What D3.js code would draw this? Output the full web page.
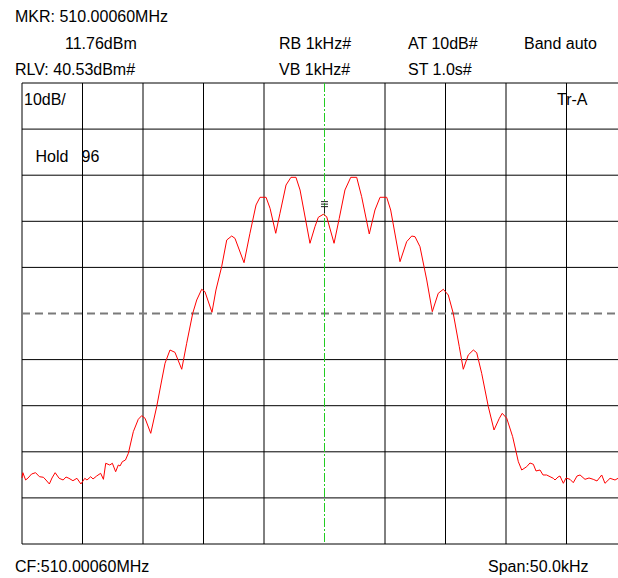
<!DOCTYPE html>
<html>
<head>
<meta charset="utf-8">
<script src="https://d3js.org/d3.v7.min.js"></script>
<style>
  body { margin: 0; background: #ffffff; }
  svg { display: block; font-family: "Liberation Sans", Arial, sans-serif; }
</style>
</head>
<body>
<svg></svg>
<script>
//constants
const W = 618, H = 578;
const plot = {left: 22, top: 83, width: 605, height: 461};

//data: trace (offset from CF in kHz, level in dBm)
const freqOffset = [
  -25.00, -24.93, -24.70, -24.50, -24.21, -23.88, -23.56, -23.23, -23.02, -22.74,
  -22.52, -22.26, -21.93, -21.60, -21.36, -21.12, -20.79, -20.46, -20.13, -19.81,
  -19.63, -19.32, -19.13, -18.83, -18.50, -18.27, -18.08, -17.75, -17.53, -17.26,
  -17.04, -16.90, -16.71, -16.45, -16.21, -15.80, -15.39, -15.11, -14.83, -14.36,
  -13.87, -13.45, -13.18, -12.77, -12.36, -11.80, -11.39, -10.89, -10.56, -10.15,
  -9.88, -9.30, -8.97, -8.50, -8.08, -7.67, -7.40, -6.65, -6.16, -5.66,
  -5.33, -4.83, -4.50, -4.03, -3.68, -3.18, -2.77, -2.36, -2.02, -1.20,
  -0.79, -0.51, -0.10, 0.18, 0.79, 1.22, 1.69, 2.17, 2.66, 3.07,
  3.70, 4.17, 4.59, 5.14, 5.47, 6.24, 6.79, 7.21, 7.48, 7.89,
  8.45, 8.91, 9.40, 9.82, 10.23, 10.64, 11.14, 11.47, 11.88, 12.30,
  12.58, 12.99, 13.54, 14.01, 14.45, 14.69, 15.06, 15.55, 16.02, 16.30,
  16.71, 16.98, 17.26, 17.48, 17.81, 18.06, 18.36, 18.64, 18.91, 19.05,
  19.30, 19.46, 19.74, 19.96, 20.29, 20.56, 20.87, 21.12, 21.53, 21.86,
  22.21, 22.52, 22.91, 23.18, 23.60, 24.01, 24.26, 24.83
];
const level = [
  -45.15, -44.00, -45.59, -45.15, -44.29, -44.00, -44.87, -45.00, -45.59, -46.45,
  -45.15, -44.00, -45.22, -45.59, -44.94, -45.22, -45.74, -45.22, -46.45, -45.22,
  -45.59, -44.87, -45.37, -44.72, -44.13, -45.44, -41.96, -42.33, -41.96, -43.79,
  -42.33, -42.55, -41.62, -41.25, -39.80, -35.11, -32.42, -31.64, -32.20, -35.46,
  -29.69, -23.90, -20.27, -17.39, -17.89, -21.57, -15.93, -9.43, -6.54, -4.22,
  -4.74, -9.21, -4.37, 0.68, 6.47, 7.34, 6.84, 1.55, 7.93, 14.07,
  15.74, 15.74, 13.35, 7.93, 12.27, 18.40, 20.07, 20.07, 17.32, 5.76,
  9.36, 11.40, 12.05, 11.53, 5.76, 11.18, 17.32, 20.07, 20.07, 15.87,
  7.78, 12.98, 15.74, 15.74, 12.98, 1.77, 6.11, 7.34, 7.19, 5.02,
  -2.20, -9.08, -5.09, -4.22, -5.46, -9.43, -16.67, -21.57, -18.47, -17.39,
  -17.97, -22.44, -29.69, -34.74, -32.20, -31.12, -32.20, -36.19, -41.62, -43.42,
  -42.70, -41.90, -42.18, -43.63, -43.42, -44.50, -44.50, -44.87, -45.22, -45.59,
  -44.94, -44.72, -46.30, -45.15, -45.44, -46.17, -44.72, -44.50, -45.44, -45.15,
  -45.44, -45.80, -44.50, -46.30, -45.22, -45.59, -45.22, -45.37
];

//settings
const refLevel = 40.53;       // dBm, top of screen
const dbPerDiv = 10;
const divisions = 10;
const span = 50;              // kHz
const displayLine = -9.47;    // dBm
const marker = {f: 0, level: 11.76};

const headerRows = [
  [{x: 15, t: "MKR: 510.00060MHz"}],
  [{x: 65, t: "11.76dBm"}, {x: 279, t: "RB 1kHz#"}, {x: 408, t: "AT 10dB#"}, {x: 524, t: "Band auto"}],
  [{x: 15, t: "RLV: 40.53dBm#"}, {x: 279, t: "VB 1kHz#"}, {x: 408, t: "ST 1.0s#"}]
];

//main
function main() {
  const svg = d3.select("svg")
    .attr("width", W)
    .attr("height", H);

  svg.append("rect")
    .attr("width", W)
    .attr("height", H)
    .attr("fill", "#ffffff");

  //scales
  const x = d3.scaleLinear()
    .domain([-span / 2, span / 2])
    .range([plot.left, plot.left + plot.width]);

  const y = d3.scaleLinear()
    .domain([refLevel, refLevel - dbPerDiv * divisions])
    .range([plot.top, plot.top + plot.height]);

  //grid
  const g = svg.append("g");

  const xTicks = d3.range(divisions + 1).map(i => -span / 2 + i * span / divisions);
  const yTicks = d3.range(divisions + 1).map(i => refLevel - i * dbPerDiv);

  g.selectAll(".vgrid")
    .data(xTicks.filter(d => d !== 0))
    .enter()
    .append("line")
    .attr("x1", d => x(d))
    .attr("x2", d => x(d))
    .attr("y1", plot.top)
    .attr("y2", plot.top + plot.height)
    .attr("stroke", "#000")
    .attr("stroke-width", 1);

  // the middle row is the dashed display line, not a solid grid line
  g.selectAll(".hgrid")
    .data(yTicks.filter((d, i) => i !== divisions / 2))
    .enter()
    .append("line")
    .attr("x1", plot.left)
    .attr("x2", plot.left + plot.width)
    .attr("y1", d => y(d))
    .attr("y2", d => y(d))
    .attr("stroke", "#000")
    .attr("stroke-width", 1);

  //display line
  g.append("line")
    .attr("x1", plot.left)
    .attr("x2", plot.left + plot.width)
    .attr("y1", y(displayLine))
    .attr("y2", y(displayLine))
    .attr("stroke", "#7a7a7a")
    .attr("stroke-width", 1.8)
    .attr("stroke-dasharray", "8,5");

  //centre line
  g.append("line")
    .attr("x1", x(0))
    .attr("x2", x(0))
    .attr("y1", plot.top)
    .attr("y2", plot.top + plot.height)
    .attr("stroke", "#22cc22")
    .attr("stroke-width", 1)
    .attr("stroke-dasharray", "9,2,2,2");

  //trace
  const pts = freqOffset.map((f, i) => [f, level[i]]);
  const line = d3.line()
    .x(d => x(d[0]))
    .y(d => y(d[1]));

  svg.append("path")
    .datum(pts)
    .attr("d", line)
    .attr("fill", "none")
    .attr("stroke", "#ff0000")
    .attr("stroke-width", 1)
    .attr("stroke-linejoin", "round");

  //marker
  const mx = x(marker.f), my = y(marker.level);
  const mk = svg.append("g").attr("stroke", "#222").attr("stroke-width", 1);
  [-14, -11.5, -9].forEach(dy => {
    mk.append("line")
      .attr("x1", mx - 3.5).attr("x2", mx + 3.5)
      .attr("y1", my + dy).attr("y2", my + dy);
  });
  mk.append("line")
    .attr("x1", mx).attr("x2", mx)
    .attr("y1", my - 9).attr("y2", my - 2);

  //header texts
  const baselines = [21.5, 48.5, 75];
  headerRows.forEach((row, r) => {
    svg.selectAll(null)
      .data(row)
      .enter()
      .append("text")
      .attr("x", d => d.x)
      .attr("y", baselines[r])
      .style("font-size", "16px")
      .text(d => d.t);
  });

  //labels inside the screen
  const inner = [
    {x: 24, y: 105, t: "10dB/"},
    {x: 557, y: 105, t: "Tr-A"},
    {x: 35.5, y: 161.5, t: "Hold"},
    {x: 81.5, y: 161.5, t: "96"}
  ];
  svg.selectAll(null)
    .data(inner)
    .enter()
    .append("text")
    .attr("x", d => d.x)
    .attr("y", d => d.y)
    .style("font-size", "16px")
    .text(d => d.t);

  //footer
  svg.append("text")
    .attr("x", 15)
    .attr("y", 571.5)
    .style("font-size", "16px")
    .text("CF:510.00060MHz");

  svg.append("text")
    .attr("x", 588.5)
    .attr("y", 571.5)
    .attr("text-anchor", "end")
    .style("font-size", "16px")
    .text("Span:50.0kHz");
}

main();
</script>
</body>
</html>
